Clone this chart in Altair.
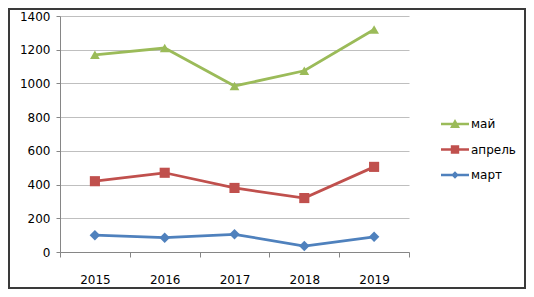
import altair as alt
import pandas as pd

years = ["2015", "2016", "2017", "2018", "2019"]
mart = [100, 85, 105, 35, 90]
aprel = [420, 470, 380, 320, 505]
mai = [1170, 1210, 985, 1075, 1320]

series = ["май", "апрель", "март"]
colors = ["#9bbb59", "#c0504d", "#4f81bd"]
shapes = ["triangle-up", "square", "diamond"]
sizes = [95, 110, 70]
y_ticks = [0, 200, 400, 600, 800, 1000, 1200, 1400]

rows = []
for name, vals in zip(series, [mai, aprel, mart]):
    for yr, v in zip(years, vals):
        rows.append({"year": yr, "series": name, "value": v})
df = pd.DataFrame(rows)

# legend symbols: line segment with marker (unit coordinates)
bar = "M-1.4,-0.13 L1.4,-0.13 L1.4,0.13 L-1.4,0.13 Z "
legend_paths = [
    bar + "M0,-0.5 L0.5,0.4 L-0.5,0.4 Z",
    bar + "M-0.42,-0.42 L0.42,-0.42 L0.42,0.42 L-0.42,0.42 Z",
    bar + "M0,-0.38 L0.38,0 L0,0.38 L-0.38,0 Z",
]

FONT = "DejaVu Sans"
W, H = 349, 236
PAD = {"left": 52, "top": 8, "right": 117, "bottom": 37}

x_enc = alt.X(
    "year:O",
    scale=alt.Scale(type="band", paddingInner=0, paddingOuter=0),
    bandPosition=0.5,
    axis=alt.Axis(
        title=None, labelAngle=0, tickBand="extent", grid=False,
        domainColor="#868686", tickColor="#868686", tickSize=5,
        labelPadding=17, labelFont=FONT, labelFontSize=12, labelColor="#000000",
    ),
)
y_enc = alt.Y(
    "value:Q",
    scale=alt.Scale(domain=[0, 1400], nice=False),
    axis=alt.Axis(
        title=None, values=y_ticks, format="d", grid=True, gridColor="#bfbfbf",
        domainColor="#868686", tickColor="#868686", tickSize=4,
        labelPadding=6, labelFont=FONT, labelFontSize=12, labelColor="#000000",
    ),
)
color_scale = alt.Scale(domain=series, range=colors)

base = alt.Chart(df).encode(x=x_enc, y=y_enc)
lines = base.mark_line(strokeWidth=2.75).encode(
    color=alt.Color("series:N", scale=color_scale, legend=None)
)
points = base.mark_point(filled=True, opacity=1).encode(
    color=alt.Color("series:N", scale=color_scale, legend=None),
    shape=alt.Shape("series:N", scale=alt.Scale(domain=series, range=shapes), legend=None),
    size=alt.Size("series:N", scale=alt.Scale(domain=series, range=sizes), legend=None),
)
leg = alt.Legend(
    title=None, orient="none", legendX=385, legendY=98,
    labelFont=FONT, labelFontSize=12, labelColor="#000000",
    symbolSize=400, labelOffset=6, rowPadding=9.5, symbolStrokeWidth=0,
    symbolOpacity=1,
)
legend_layer = base.mark_point(filled=True, opacity=0, size=1).encode(
    color=alt.Color("series:N", scale=color_scale, legend=leg),
    shape=alt.Shape("series:N", scale=alt.Scale(domain=series, range=legend_paths), legend=leg),
)

frame = alt.Chart(pd.DataFrame({"a": [0]})).mark_rect(
    fillOpacity=0, stroke="#3a3a3a", strokeWidth=2
).encode(
    x=alt.value(-PAD["left"] + 1), x2=alt.value(W + PAD["right"] - 1),
    y=alt.value(-PAD["top"] + 1), y2=alt.value(H + PAD["bottom"] - 1),
)

chart = alt.layer(frame, lines, points, legend_layer).resolve_scale(
    shape="independent", color="independent"
).properties(
    width=W, height=H, padding=PAD, autosize=alt.AutoSizeParams(type="none"),
    background="#ffffff",
).configure_view(stroke=None)

chart.save("out.html", embed_options={"renderer": "svg", "actions": False})
